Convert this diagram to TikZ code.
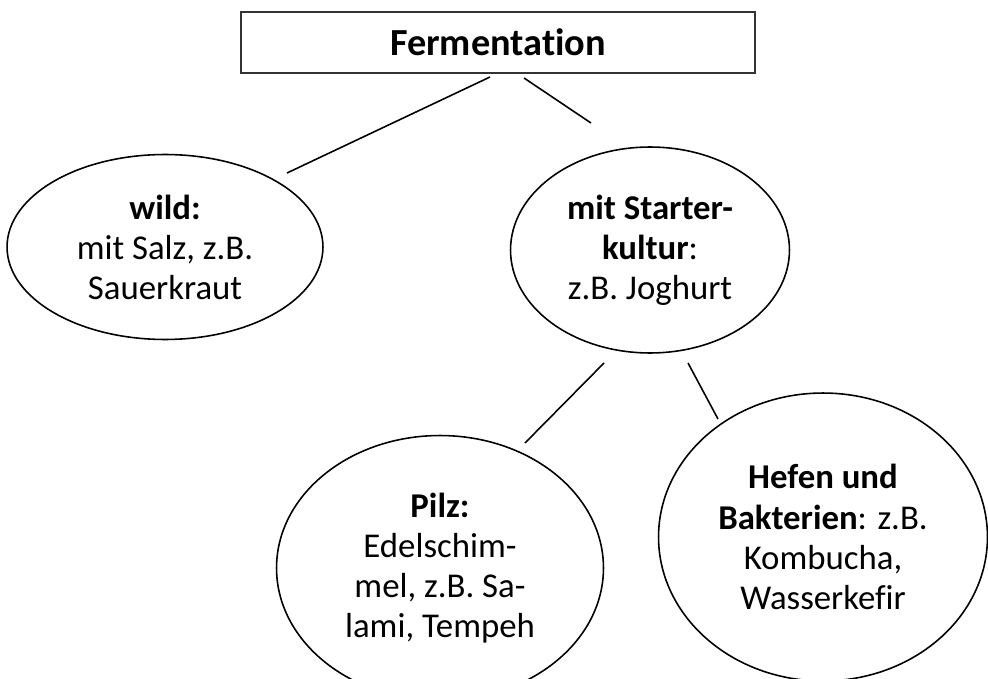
\documentclass[tikz,border=0pt]{standalone}
\usepackage{fontspec}
\setmainfont{Carlito}[Ligatures=NoCommon]
\usetikzlibrary{shapes.geometric, positioning}

\begin{document}
\begin{tikzpicture}[x=0.02cm, y=-0.02cm,
  oval/.style={draw, ellipse, line width=0.9pt, align=center, inner sep=0pt,
    font=\fontsize{19.8}{22.8}\selectfont},
  link/.style={line width=0.9pt}]
\useasboundingbox (0,0) rectangle (988,679);

% Top box
\node[draw=black!80, line width=1.1pt, minimum width=10.28cm, minimum height=1.22cm,
  font=\fontsize{21.8}{24}\selectfont\bfseries] (ferm) at (498,42.5) {Fermentation};

% Second level
\node[oval, minimum width=6.32cm, minimum height=3.7cm] (wild) at (165,247)
  {\textbf{wild:}\\mit Salz, z.B.\\Sauerkraut};
\node[oval, minimum width=5.58cm, minimum height=4.12cm] (starter) at (650,250)
  {\textbf{mit Starter-}\\\textbf{kultur}:\\z.B. Joghurt};

% Third level
\node[oval, minimum width=6.54cm, minimum height=5.3cm] (pilz) at (440,568)
  {\textbf{Pilz:}\\Edelschim-\\mel, z.B. Sa-\\lami, Tempeh};
\node[oval, minimum width=6.58cm, minimum height=5.76cm] (hefen) at (823,537)
  {\textbf{Hefen und}\\\textbf{Bakterien}: z.B.\\Kombucha,\\Wasserkefir};

% Connectors (free ends)
\coordinate (fermL) at (490,77);
\coordinate (wildT) at (287,173);
\coordinate (fermR) at (524,78);
\coordinate (starterT) at (591,123);
\coordinate (starterL) at (604,363);
\coordinate (pilzT) at (525,443);
\coordinate (starterR) at (688,363);
\coordinate (hefenT) at (718,419);

\draw[link] (fermL) -- (wildT);
\draw[link] (fermR) -- (starterT);
\draw[link] (starterL) -- (pilzT);
\draw[link] (starterR) -- (hefenT);
\end{tikzpicture}
\end{document}
